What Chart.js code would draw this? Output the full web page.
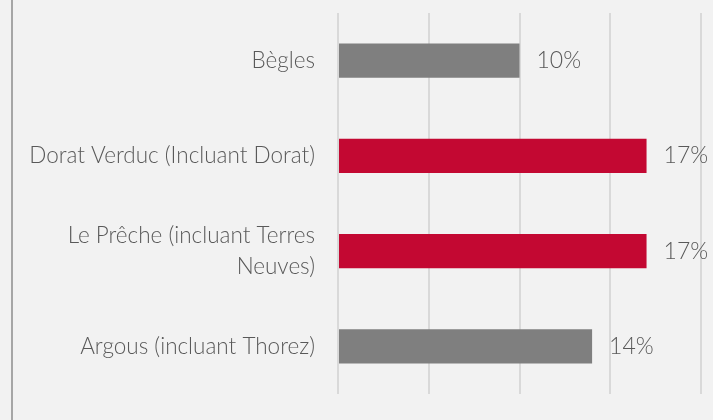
<!DOCTYPE html>
<html>
<head>
<meta charset="utf-8">
<script src="https://cdn.jsdelivr.net/npm/chart.js@4/dist/chart.umd.min.js"></script>
<style>
    html, body { margin: 0; padding: 0; background: #f2f2f2; }
    #wrap { position: relative; width: 713px; height: 420px; }
    #wrap:before { content: ''; position: absolute; left: 11px; top: 0; width: 2px; height: 420px; background: #a6a6a6; }
</style>
</head>
<body>
<div id="wrap"><canvas id="chart" width="713" height="420"></canvas></div>
<script>
// Chart data
const categories = ['Bègles', 'Dorat Verduc (Incluant Dorat)', ['Le Prêche (incluant Terres', 'Neuves)'], 'Argous (incluant Thorez)'];
const values = [10, 17, 17, 14];
const barColors = ['#7f7f7f', '#c30832', '#c30832', '#7f7f7f'];
const axisMax = 20;

const textColor = '#595959';
const fontFamily = 'Lato, "Open Sans", sans-serif';

// Draw "xx%" next to each bar
const valueLabels = {
    id: 'valueLabels',
    afterDatasetsDraw(chart) {
        const ctx = chart.ctx;
        const meta = chart.getDatasetMeta(0);
        ctx.save();
        ctx.fillStyle = textColor;
        ctx.font = '300 23px ' + fontFamily;
        ctx.textAlign = 'left';
        ctx.textBaseline = 'middle';
        meta.data.forEach(function(bar, i) {
            ctx.fillText(values[i] + '%', bar.x + 17, bar.y);
        });
        ctx.restore();
    }
};

function loadChart() {
    const ctx = document.getElementById('chart').getContext('2d');
    new Chart(ctx, {
        type: 'bar',
        data: {
            labels: categories,
            datasets: [{
                data: values,
                backgroundColor: barColors,
                barPercentage: 0.36,
                categoryPercentage: 1
            }]
        },
        options: {
            indexAxis: 'y',
            responsive: false,
            animation: false,
            layout: { autoPadding: false, padding: { top: 13, bottom: 26, right: 12, left: 0 } },
            plugins: {
                legend: { display: false },
                tooltip: { enabled: false }
            },
            scales: {
                x: {
                    min: 0,
                    max: axisMax,
                    ticks: { display: false, stepSize: 5 },
                    grid: { color: '#d9d9d9', lineWidth: 2, drawTicks: false },
                    border: { display: false }
                },
                y: {
                    grid: { display: false },
                    border: { display: false },
                    ticks: {
                        color: textColor,
                        padding: 15,
                        font: { family: fontFamily, size: 22.5, weight: 300, lineHeight: 1.4 }
                    },
                    afterFit: function(scale) {
                        scale.width = 338;
                        // no extra room for the first/last labels
                        scale.paddingTop = 0;
                        scale.paddingBottom = 0;
                    }
                }
            }
        },
        plugins: [valueLabels]
    });
}

window.onload = loadChart;
</script>
</body>
</html>
